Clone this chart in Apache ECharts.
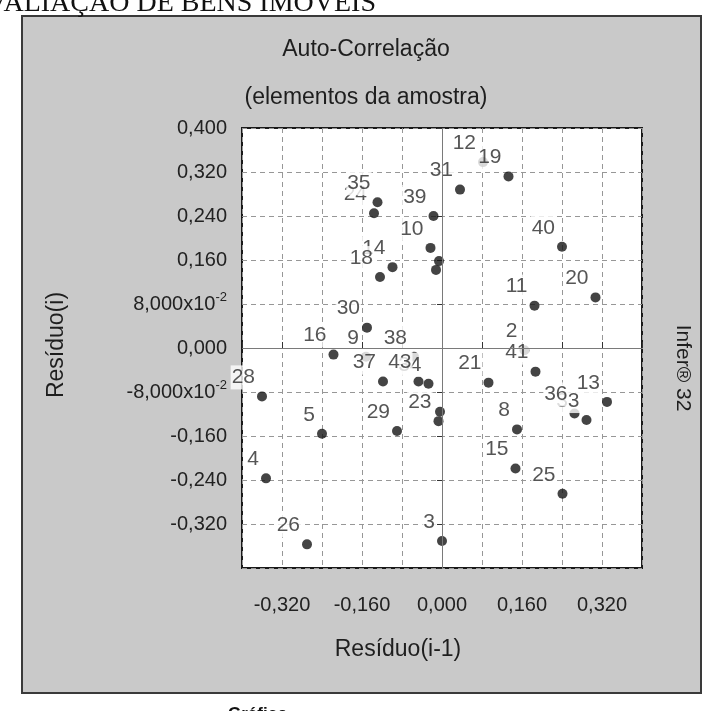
<!DOCTYPE html>
<html>
<head>
<meta charset="utf-8">
<title>Auto-Correlação</title>
<script src="https://cdn.jsdelivr.net/npm/echarts@6/dist/echarts.min.js"></script>
<style>
  html, body { margin: 0; padding: 0; background: #fff; }
  #panel {
    position: absolute; left: 21px; top: 15px; width: 681px; height: 679px;
    box-sizing: border-box; background: #c9c9c9; border: 2px solid #3a3a3a;
  }
  #chart { position: absolute; left: 0; top: 0; width: 704px; height: 711px; }
</style>
</head>
<body>
<div id="panel"></div>
<div id="chart"></div>
<script>
// pontos: residuo(i-1) no eixo x, residuo(i) no eixo y
// a ordem importa: o rotulo desenhado depois cobre o anterior
const pointLabels = ['12', '19', '31', '24', '35', '', '', '39', '10', '14', '18', '40', '11', '20',
  '30', '9', '38', '16', '2', '41', '21', '37', '34', '43', '28', '5', '29', '', '23', '8',
  '13', '33', '36', '15', '25', '4', '26', '3'];
const residuoAnterior = [0.082, 0.133, 0.036, -0.136, -0.129, -0.006, -0.012, -0.017, -0.023, -0.099, -0.124, 0.240, 0.185, 0.307,
  -0.150, -0.152, -0.056, -0.217, 0.165, 0.187, 0.093, -0.118, -0.027, -0.047, -0.360, -0.240, -0.090, -0.004, -0.007, 0.150,
  0.330, 0.289, 0.265, 0.147, 0.241, -0.352, -0.270, 0.000];
const residuo = [0.338, 0.312, 0.288, 0.245, 0.265, 0.158, 0.142, 0.240, 0.182, 0.147, 0.129, 0.184, 0.077, 0.092,
  0.037, -0.016, -0.016, -0.012, -0.004, -0.043, -0.063, -0.061, -0.065, -0.061, -0.088, -0.156, -0.151, -0.116, -0.133, -0.148,
  -0.098, -0.131, -0.119, -0.219, -0.265, -0.237, -0.357, -0.351];

const yTickValues = [0.4, 0.32, 0.24, 0.16, 0.08, 0, -0.08, -0.16, -0.24, -0.32];
const yTickLabels = ['0,400', '0,320', '0,240', '0,160', '8,000x10{s|-2}', '0,000', '-8,000x10{s|-2}', '-0,160', '-0,240', '-0,320'];
const xTickValues = [-0.32, -0.16, 0, 0.16, 0.32];
const xTickLabels = ['-0,320', '-0,160', '0,000', '0,160', '0,320'];

function tickText(values, labels, v) {
  for (let i = 0; i < values.length; i++) {
    if (Math.abs(values[i] - v) < 1e-6) return labels[i];
  }
  return '';
}

const FONT = "'Liberation Sans', Arial, sans-serif";
const chart = echarts.init(document.getElementById('chart'));

const points = residuoAnterior.map((x, i) => ({
  value: [x, residuo[i]],
  name: pointLabels[i],
  label: { show: pointLabels[i] !== '' }
}));

const gridDash = { color: '#979797', width: 1, type: [5, 4] };

const option = {
  animation: false,
  backgroundColor: 'transparent',
  textStyle: { fontFamily: FONT },
  grid: {
    left: 242, top: 128, width: 400, height: 440,
    show: true, backgroundColor: '#fff', borderColor: '#1a1a1a', borderWidth: 2
  },
  xAxis: {
    type: 'value', min: -0.4, max: 0.4, interval: 0.08,
    axisLine: { show: false },
    axisTick: { show: true, inside: true, length: 6, lineStyle: { color: '#333' } },
    axisLabel: {
      margin: 27, fontSize: 20, color: '#222', fontFamily: FONT,
      formatter: v => tickText(xTickValues, xTickLabels, v)
    },
    splitLine: { show: true, lineStyle: gridDash }
  },
  yAxis: {
    type: 'value', min: -0.4, max: 0.4, interval: 0.08,
    axisLine: { show: false },
    axisTick: { show: true, length: 5, lineStyle: { color: '#333' } },
    axisLabel: {
      margin: 15, fontSize: 20, color: '#222', fontFamily: FONT,
      formatter: v => tickText(yTickValues, yTickLabels, v),
      rich: { s: { fontSize: 13, color: '#222', fontFamily: FONT, padding: [0, 0, 14, 0] } }
    },
    splitLine: { show: true, lineStyle: gridDash }
  },
  series: [
    {
      // linhas do zero
      type: 'scatter', z: 1, data: [],
      markLine: {
        silent: true, symbol: ['none', 'none'], label: { show: false },
        lineStyle: { color: '#7a7a7a', type: 'solid', width: 1 },
        data: [{ xAxis: 0 }, { yAxis: 0 }]
      }
    },
    {
      type: 'scatter', z: 3,
      symbol: 'circle', symbolSize: 10,
      itemStyle: { color: '#151515' },
      label: {
        show: true, position: 'inside', align: 'right', verticalAlign: 'middle',
        offset: [-6, -19], formatter: p => p.name,
        fontSize: 21, color: '#2a2a2a', fontFamily: FONT,
        backgroundColor: '#fff', padding: [2, 1], lineHeight: 20
      },
      data: points
    }
  ],
  graphic: [
    { type: 'text', x: 366, y: 50, style: { text: 'Auto-Correlação', font: "23px " + FONT, fill: '#1e1e1e', align: 'center', verticalAlign: 'middle' } },
    { type: 'text', x: 366, y: 98, style: { text: '(elementos da amostra)', font: "23px " + FONT, fill: '#1e1e1e', align: 'center', verticalAlign: 'middle' } },
    { type: 'text', x: 398, y: 650, style: { text: 'Resíduo(i-1)', font: "23px " + FONT, fill: '#1e1e1e', align: 'center', verticalAlign: 'middle' } },
    { type: 'text', x: 57, y: 345, rotation: Math.PI / 2, style: { text: 'Resíduo(i)', font: "23px " + FONT, fill: '#1e1e1e', align: 'center', verticalAlign: 'middle' } },
    { type: 'text', x: 683, y: 368, rotation: -Math.PI / 2, style: { text: 'Infer® 32', font: "21px " + FONT, fill: '#1e1e1e', align: 'center', verticalAlign: 'middle' } },
    { type: 'text', x: 376, y: 18, style: { text: 'AVALIAÇÃO DE BENS IMÓVEIS', font: "28px 'Liberation Serif', 'Times New Roman', serif", fill: '#111', align: 'right', verticalAlign: 'bottom' } },
    { type: 'text', x: 228, y: 706, style: { text: 'Gráfico', font: "bold 17px " + FONT, fill: '#111', align: 'left', verticalAlign: 'top' } }
  ]
};

chart.setOption(option);
</script>
</body>
</html>
